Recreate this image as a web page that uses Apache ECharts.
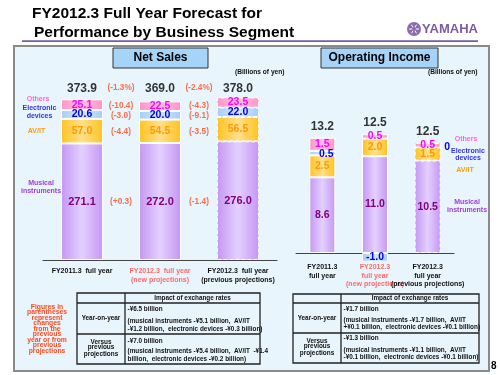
<!DOCTYPE html>
<html>
<head>
<meta charset="utf-8">
<script src="https://cdn.jsdelivr.net/npm/echarts@6/dist/echarts.min.js"></script>
<style>
  html, body { margin: 0; padding: 0; background: #fff; }
  #chart { width: 500px; height: 375px; }
</style>
</head>
<body>
<div id="chart"></div>
<script>
// Net sales (billions of yen)
const salesCats = ['FY2011.3  full year', 'FY2012.3  full year\n(new projections)', 'FY2012.3  full year\n(previous projections)'];
const salesMusical = [271.1, 272.0, 276.0];
const salesAvit = [57.0, 54.5, 56.5];
const salesElec = [20.6, 20.0, 22.0];
const salesOthers = [25.1, 22.5, 23.5];
const salesTotal = [373.9, 369.0, 378.0];
// changes: total, others, electronic, av/it, musical
const salesChgYoY = ['(-1.3%)', '(-10.4)', '(-3.0)', '(-4.4)', '(+0.3)'];
const salesChgPrev = ['(-2.4%)', '(-4.3)', '(-9.1)', '(-3.5)', '(-1.4)'];

// Operating income (billions of yen)
const opCats = ['FY2011.3\nfull year', 'FY2012.3\nfull year\n(new projections)', 'FY2012.3\nfull year\n(previous projections)'];
const opMusical = [8.6, 11.0, 10.5];
const opAvit = [2.5, 2.0, 1.5];
const opElec = [0.5, -1.0, 0];
const opOthers = [1.5, 0.5, 0.5];
const opTotal = [13.2, 12.5, 12.5];

// exchange rate tables
const fxSalesYoY = ['-¥6.5 billion', '(musical instruments -¥5.1 billion,  AV/IT', '-¥1.2 billion,  electronic devices -¥0.3 billion)'];
const fxSalesPrev = ['-¥7.0 billion', '(musical instruments -¥5.4 billion,  AV/IT  -¥1.4', 'billion,  electronic devices -¥0.2 billion)'];
const fxOpYoY = ['-¥1.7 billion', '(musical instruments -¥1.7 billion,  AV/IT', '+¥0.1 billion,  electronic devices -¥0.1 billion)'];
const fxOpPrev = ['-¥1.3 billion', '(musical instruments -¥1.1 billion,  AV/IT', '-¥0.1 billion,  electronic devices -¥0.1 billion)'];

const FONT = '"Liberation Sans", Arial, sans-serif';
const RED = '#ff4a1c';

function grad(edge, mid) {
  return new echarts.graphic.LinearGradient(0, 0, 1, 0, [
    { offset: 0, color: edge }, { offset: 0.5, color: mid }, { offset: 1, color: edge }
  ]);
}
const fills = {
  musical: grad('#c497f2', '#e4d0ff'),
  avit: grad('#ffc21f', '#ffe08a'),
  elec: grad('#a6cdf7', '#d2e8ff'),
  others: grad('#ff94c8', '#ffc2e0')
};

function seg(vals, xi, yi, stack, width, fill, color, size, itemLabels) {
  return {
    type: 'bar', xAxisIndex: xi, yAxisIndex: yi, stack: stack, barWidth: width,
    data: vals.map((v, i) => ({
      value: v,
      itemStyle: i === 2 ? { borderType: 'dashed' } : {},
      label: (itemLabels && itemLabels[i]) || {}
    })),
    itemStyle: { color: fill, borderColor: '#fff', borderWidth: 1 },
    label: {
      show: true, position: 'inside', color: color, fontWeight: 'bold', fontSize: size, fontFamily: FONT,
      formatter: p => p.value === 0 ? '0' : p.value.toFixed(1)
    }
  };
}

function T(text, x, y, size, color, align) {
  return {
    type: 'text', x: x, y: y, z: 10,
    style: { text: text, fill: color, font: 'bold ' + size + 'px ' + FONT, textAlign: align || 'left', verticalAlign: 'middle' }
  };
}
function L(x1, y1, x2, y2, color, w) {
  return { type: 'line', z: 5, shape: { x1, y1, x2, y2 }, style: { stroke: color, lineWidth: w } };
}
function table(x0, x1, xc, ys, rows1, rows2, ty1, ty2) {
  const c = '#222', w = 1.3, xm = (x0 + xc) / 2;
  const els = [
    { type: 'rect', z: 5, shape: { x: x0, y: ys[0], width: x1 - x0, height: ys[3] - ys[0] }, style: { fill: 'none', stroke: c, lineWidth: w } },
    L(xc, ys[0], xc, ys[3], c, w), L(x0, ys[1], x1, ys[1], c, w), L(x0, ys[2], x1, ys[2], c, w),
    T('Impact of exchange rates', (xc + x1) / 2, (ys[0] + ys[1]) / 2, 6.4, '#111', 'center'),
    T('Year-on-year', xm, (ys[1] + ys[2]) / 2, 6.4, '#111', 'center'),
    T('Versus', xm, ys[2] + 8, 6.4, '#111', 'center'),
    T('previous', xm, ys[2] + 13.5, 6.4, '#111', 'center'),
    T('projections', xm, ys[2] + 20, 6.4, '#111', 'center')
  ];
  rows1.forEach((s, i) => els.push(T(s, xc + 2.5, ty1[i], 6.4, '#111')));
  rows2.forEach((s, i) => els.push(T(s, xc + 2.5, ty2[i], 6.4, '#111')));
  return els;
}

// positions of change labels follow the middle bar's segments
const mid = 1;
const chgY = [
  salesTotal[mid],
  salesMusical[mid] + salesAvit[mid] + salesElec[mid] + salesOthers[mid] / 2,
  salesMusical[mid] + salesAvit[mid] + salesElec[mid] / 2,
  salesMusical[mid] + salesAvit[mid] / 2,
  salesMusical[mid] / 2
];
const chgData = [];
[salesChgYoY, salesChgPrev].forEach((arr, g) => {
  arr.forEach((txt, k) => chgData.push({
    value: [g + 1, chgY[k]], name: txt,
    label: k === 0 ? { position: 'top', distance: 9 } : {}
  }));
});
const salesTopLine = Math.max(...salesTotal);
const opTop = opMusical.map((v, i) => v + opAvit[i] + Math.max(opElec[i], 0) + opOthers[i]);

const axisLabelRich = {
  b: { color: '#111', fontWeight: 'bold', fontSize: 7, fontFamily: FONT, lineHeight: 8.5 },
  r: { color: '#ff6a6a', fontWeight: 'bold', fontSize: 7, fontFamily: FONT, lineHeight: 8.5 }
};
const catFmt = (v, i) => v.split('\n').map(s => '{' + (i === 1 ? 'r' : 'b') + '|' + s + '}').join('\n');

const chart = echarts.init(document.getElementById('chart'), null, { renderer: 'canvas' });
chart.setOption({
  animation: false,
  backgroundColor: '#fff',
  grid: [
    { left: 43, top: 88, width: 234, height: 172 },
    { left: 296, top: 112.2, width: 158, height: 158.4 }
  ],
  xAxis: [
    {
      type: 'category', gridIndex: 0, data: salesCats,
      axisLine: { lineStyle: { color: '#444', width: 1 } },
      axisTick: { length: 4, lineStyle: { color: '#444' } },
      axisLabel: { interval: 0, margin: 7, formatter: catFmt, rich: axisLabelRich }
    },
    { type: 'value', gridIndex: 0, min: 0, max: 3, show: false },
    {
      type: 'category', gridIndex: 1, data: opCats,
      axisLine: { onZero: true, lineStyle: { color: '#444', width: 1 } },
      axisTick: { length: 4, lineStyle: { color: '#444' } },
      axisLabel: { interval: 0, margin: -7.6, formatter: catFmt, rich: axisLabelRich }
    }
  ],
  yAxis: [
    { type: 'value', gridIndex: 0, min: 0, max: 400, show: false },
    { type: 'value', gridIndex: 1, min: -2, max: 16, show: false }
  ],
  series: [
    seg(salesMusical, 0, 0, 'sales', 42, fills.musical, '#800080', 11),
    seg(salesAvit, 0, 0, 'sales', 42, fills.avit, '#ff9a00', 10.5),
    seg(salesElec, 0, 0, 'sales', 42, fills.elec, '#0000ee', 10.5),
    seg(salesOthers, 0, 0, 'sales', 42, fills.others, '#ff00ff', 10.5),
    {
      type: 'scatter', xAxisIndex: 0, yAxisIndex: 0, symbolSize: 1, itemStyle: { color: 'rgba(0,0,0,0)' },
      data: salesTotal.map((t, i) => ({ value: [i, salesTopLine], name: t.toFixed(1) })),
      label: { show: true, position: 'top', distance: 2, formatter: '{b}', color: '#000', fontWeight: 'bold', fontSize: 12, fontFamily: FONT }
    },
    {
      type: 'scatter', xAxisIndex: 1, yAxisIndex: 0, symbolSize: 1, itemStyle: { color: 'rgba(0,0,0,0)' },
      data: chgData,
      label: { show: true, position: 'inside', formatter: '{b}', color: RED, fontWeight: 'bold', fontSize: 8.3, fontFamily: FONT }
    },
    seg(opMusical, 2, 1, 'op', 26, fills.musical, '#800080', 10.5),
    seg(opAvit, 2, 1, 'op', 26, fills.avit, '#ff9a00', 10.5),
    seg(opElec, 2, 1, 'op', 26, fills.elec, '#0000ee', 10.5,
      [{ offset: [4, 1] }, {}, { position: 'right', distance: 3 }]),
    seg(opOthers, 2, 1, 'op', 26, fills.others, '#ff00ff', 10.5),
    {
      type: 'scatter', xAxisIndex: 2, yAxisIndex: 1, symbolSize: 1, itemStyle: { color: 'rgba(0,0,0,0)' },
      data: opTotal.map((t, i) => ({ value: [i, opTop[i]], name: t.toFixed(1) })),
      label: { show: true, position: 'top', distance: 5, formatter: '{b}', color: '#000', fontWeight: 'bold', fontSize: 12, fontFamily: FONT }
    }
  ],
  graphic: [
    // title and header
    T('FY2012.3 Full Year Forecast for', 32, 14, 15.5, '#000'),
    T('Performance by Business Segment', 34, 33, 15.5, '#000'),
    L(22, 41.2, 478, 41.2, '#7d5a9e', 1.8),
    { type: 'circle', shape: { cx: 414, cy: 29, r: 7 }, style: { fill: '#8c6bb0' } },
    L(409, 29, 419, 29, '#fff', 1), L(411.5, 24.7, 416.5, 33.3, '#fff', 1), L(416.5, 24.7, 411.5, 33.3, '#fff', 1),
    { type: 'circle', shape: { cx: 414, cy: 29, r: 2 }, style: { fill: '#8c6bb0' }, z: 6 },
    T('YAMAHA', 450, 29.5, 13, '#7f5aa0', 'center'),
    // panel
    { type: 'rect', z: -10, shape: { x: 14, y: 46, width: 475, height: 325 }, style: { fill: '#e9f5fd', stroke: '#8a8a8a', lineWidth: 2 } },
    { type: 'rect', z: 4, shape: { x: 113, y: 48, width: 95, height: 20 }, style: { fill: '#a6d3f8', stroke: '#333', lineWidth: 1 } },
    T('Net Sales', 160.5, 58, 12, '#000', 'center'),
    { type: 'rect', z: 4, shape: { x: 321, y: 48, width: 117, height: 20 }, style: { fill: '#a6d3f8', stroke: '#333', lineWidth: 1 } },
    T('Operating Income', 379.5, 58, 12, '#000', 'center'),
    T('(Billions of yen)', 235, 72.5, 6.6, '#111'),
    T('(Billions of yen)', 428, 72.5, 6.6, '#111'),
    // segment names, net sales
    T('Others', 38, 99.5, 7, '#ff66cc', 'center'),
    T('Electronic', 39.5, 108.5, 7, '#3333dd', 'center'),
    T('devices', 39.5, 116.5, 7, '#3333dd', 'center'),
    T('AV/IT', 36.5, 131.5, 7, '#ff9900', 'center'),
    T('Musical', 41, 183, 7, '#a040d0', 'center'),
    T('instruments', 41, 191, 7, '#a040d0', 'center'),
    // segment names, operating income
    T('Others', 466, 139.5, 7, '#ff66cc', 'center'),
    T('Electronic', 468, 151, 7, '#3333dd', 'center'),
    T('devices', 468, 158.5, 7, '#3333dd', 'center'),
    T('AV/IT', 465, 170.5, 7, '#ff9900', 'center'),
    T('Musical', 467, 202, 7, '#a040d0', 'center'),
    T('instruments', 467, 210.5, 7, '#a040d0', 'center'),
    // note
    ...['Figures in', 'parentheses', 'represent', 'changes', 'from the', 'previous', 'year or from', 'previous', 'projections']
      .map((s, i) => T(s, 47, 306.7 + i * 5.5, 6.8, RED, 'center')),
    // tables
    ...table(77, 260, 125, [293, 303, 334, 364], fxSalesYoY, fxSalesPrev, [309.5, 321, 329.5], [341, 351.7, 359.5]),
    ...table(293, 479, 341, [294, 303, 333, 363], fxOpYoY, fxOpPrev, [309.3, 320, 327.7], [338.3, 350, 357.7]),
    T('8', 491, 366, 10, '#000')
  ]
});
</script>
</body>
</html>
